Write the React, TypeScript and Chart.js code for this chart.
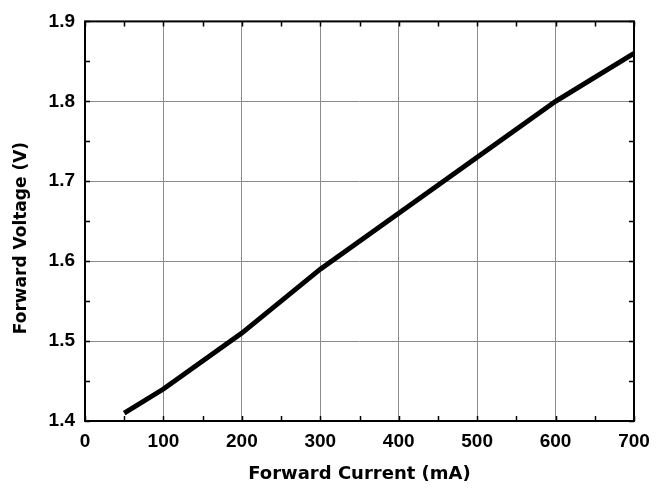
import { useEffect, useRef } from 'react';
import { Chart, registerables } from 'chart.js';

Chart.register(...registerables);

const currents = [50, 100, 200, 300, 400, 500, 600, 700];
const voltages = [1.41, 1.44, 1.51, 1.59, 1.66, 1.73, 1.8, 1.86];
const xRange = [0, 700];
const yRange = [1.4, 1.9];
const xStep = 100;
const yStep = 0.1;
const xMinorStep = 50;
const yMinorStep = 0.05;
const xTitle = 'Forward Current (mA)';
const yTitle = 'Forward Voltage (V)';

const TITLE_FONT = "'DejaVu Sans', 'Liberation Sans', sans-serif";
const TICK_FONT = "'Liberation Sans', Arial, sans-serif";

const framePlugin = {
  id: 'frame',
  afterDatasetsDraw(chart: any) {
    const { ctx, chartArea: a, scales } = chart;
    const xs = scales.x;
    const ys = scales.y;
    ctx.save();
    ctx.strokeStyle = '#000';
    ctx.lineWidth = 1.5;
    ctx.beginPath();
    for (let v = xRange[0]; v <= xRange[1] + 1e-9; v += xMinorStep) {
      const px = Math.round(xs.getPixelForValue(v)) + 0.5;
      ctx.moveTo(px, a.bottom);
      ctx.lineTo(px, a.bottom - 5);
      ctx.moveTo(px, a.top);
      ctx.lineTo(px, a.top + 5);
    }
    for (let v = yRange[0]; v <= yRange[1] + 1e-9; v += yMinorStep) {
      const py = Math.round(ys.getPixelForValue(v)) + 0.5;
      ctx.moveTo(a.left, py);
      ctx.lineTo(a.left + 5, py);
      ctx.moveTo(a.right, py);
      ctx.lineTo(a.right - 5, py);
    }
    ctx.stroke();
    ctx.lineWidth = 2;
    ctx.strokeRect(a.left, a.top, a.right - a.left, a.bottom - a.top);
    // y axis title
    ctx.translate(22, 238);
    ctx.rotate(-Math.PI / 2);
    ctx.fillStyle = '#000';
    ctx.font = `bold 17px ${TITLE_FONT}`;
    ctx.textAlign = 'center';
    ctx.textBaseline = 'middle';
    ctx.fillText(yTitle, 0, 0);
    ctx.restore();
  },
};

export default function App() {
  const ref = useRef<HTMLCanvasElement | null>(null);
  useEffect(() => {
    if (!ref.current) return;
    const chart = new Chart(ref.current, {
      type: 'line',
      data: {
        datasets: [
          {
            data: currents.map((c, i) => ({ x: c, y: voltages[i] })),
            borderColor: '#000',
            borderWidth: 5,
            pointRadius: 0,
            tension: 0,
            fill: false,
          },
        ],
      },
      options: {
        animation: false,
        responsive: false,
        devicePixelRatio: 1,
        layout: { padding: { top: 18, right: 33, left: 0, bottom: 0 } },
        plugins: { legend: { display: false }, tooltip: { enabled: false } },
        scales: {
          x: {
            type: 'linear',
            min: xRange[0],
            max: xRange[1],
            afterFit: (s: any) => {
              s.height = 71;
            },
            ticks: {
              stepSize: xStep,
              color: '#000',
              padding: 9,
              font: { family: TICK_FONT, weight: 'bold', size: 19 },
            },
            grid: { color: '#8c8c8c', lineWidth: 1, drawTicks: false },
            border: { display: false },
            title: {
              display: true,
              text: xTitle,
              color: '#000',
              font: { family: TITLE_FONT, weight: 'bold', size: 18 },
              padding: { top: 0, bottom: 7 },
            },
          },
          y: {
            type: 'linear',
            min: yRange[0],
            max: yRange[1],
            afterFit: (s: any) => {
              s.width = 85;
            },
            ticks: {
              stepSize: yStep,
              color: '#000',
              padding: 10,
              font: { family: TICK_FONT, weight: 'bold', size: 19 },
              callback: (v: any) => Number(v).toFixed(1),
            },
            grid: { color: '#8c8c8c', lineWidth: 1, drawTicks: false },
            border: { display: false },
          },
        },
      },
      plugins: [framePlugin],
    } as any);
    return () => chart.destroy();
  }, []);
  return (
    <div style={{ position: 'absolute', left: 0, top: 0, width: 667, height: 492, background: '#fff' }}>
      <canvas ref={ref} width={667} height={492} />
    </div>
  );
}
